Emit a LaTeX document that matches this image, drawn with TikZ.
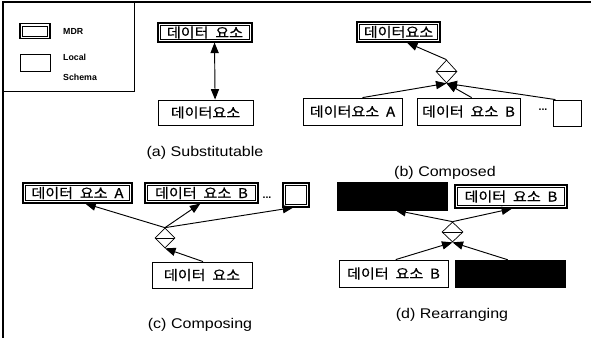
\documentclass[tikz,border=0pt]{standalone}
\usepackage{fontspec}
\setmainfont{Liberation Sans}
\newfontfamily\capfont[FakeStretch=1.14]{Liberation Sans}
\newfontfamily\kr[FakeStretch=1.12,WordSpace=2,FakeBold=0.6]{Noto Sans CJK KR}
\usetikzlibrary{shapes.geometric,arrows.meta,calc}
\begin{document}
\begin{tikzpicture}[x=0.03cm,y=-0.03cm,
  sz/.style 2 args={minimum width=#1*0.03cm, minimum height=#2*0.03cm},
  lbox/.style={draw, line width=0.7pt, inner sep=0pt, font=\kr\fontsize{11.5}{12}\selectfont},
  mbox/.style={lbox, line width=0.9pt,
    path picture={\draw[line width=0.5pt] ([shift={(2pt,2pt)}]path picture bounding box.south west) rectangle ([shift={(-2pt,-2pt)}]path picture bounding box.north east);}},
  bbox/.style={fill=black, draw=black, inner sep=0pt},
  dia/.style={draw, diamond, inner sep=0pt, line width=0.6pt,
    path picture={\draw[line width=0.5pt] (path picture bounding box.west) -- (path picture bounding box.east);}},
  captxt/.style={font=\capfont\fontsize{12}{13}\selectfont, inner sep=0pt},
  legt/.style={font=\bfseries\fontsize{7.5}{8}\selectfont, inner sep=0pt},
  dotstxt/.style={font=\bfseries\fontsize{9}{9}\selectfont, inner sep=0pt},
  tipa/.tip={Triangle[length=9pt,width=7pt]},
  arr/.style={-tipa, line width=0.8pt},
  arr2/.style={tipa-tipa, line width=0.8pt}]
\useasboundingbox (0,0) rectangle (591,338);
% frame
\draw[line width=0.9pt] (3,338) -- (3,2) -- (591,2);
\draw[line width=0.8pt] (3,91) -- (134,91) -- (134,2);
% legend
\node[mbox, sz={30}{15}] (lm) at (35,31) {};
\node[lbox, sz={30}{17}] (ll) at (35,63) {};
\node[legt, anchor=west] (tm) at (63,31) {MDR};
\node[legt, anchor=west] (tl1) at (63,57) {Local};
\node[legt, anchor=west] (tl2) at (63,77) {Schema};
% (a)
\node[mbox, sz={94}{19}] (aT) at (205,32.5) {데이터 요소};
\node[lbox, sz={95}{25}] (aB) at (205.5,112.5) {데이터요소};
\draw[arr2] ($(aT.south west)!0.6!(aT.south east)$) -- ($(aB.north west)!0.6!(aB.north east)$);
\node[captxt] (ca) at (205,153) {(a) Substitutable};
% (b)
\node[mbox, sz={83}{20}] (bT) at (398.5,32) {데이터요소};
\node[dia, sz={21}{23}] (bD) at (446.5,71.5) {};
\node[lbox, sz={99}{27}] (bA) at (352.5,111.5) {데이터요소 A};
\node[lbox, sz={103}{27}] (bB) at (468.5,111.5) {데이터 요소 B};
\node[lbox, sz={28}{26}] (bS) at (567,113) {};
\node[dotstxt] (bdots) at (543,110) {...};
\draw[arr] (bD.north) -- ($(bT.south west)!0.6!(bT.south east)$);
\draw[arr] ($(bA.north west)!0.6!(bA.north east)$) -- (bD.south);
\draw[arr] ($(bB.north west)!0.53!(bB.north east)$) -- (bD.south);
\draw[arr] ($(bS.north west)!0.1!(bS.north east)$) -- (bD.south);
\node[captxt] (cb) at (445,173) {(b) Composed};
% (c)
\node[mbox, sz={109}{20}] (cA) at (77.5,193) {데이터 요소 A};
\node[mbox, sz={113}{20}] (cB) at (201.5,193) {데이터 요소 B};
\node[dotstxt] (cdots) at (267,198) {...};
\node[mbox, sz={26}{24}] (cS) at (296,195) {};
\node[dia, sz={20}{20}] (cD) at (165,238) {};
\node[lbox, sz={100}{26}] (cL) at (202,275) {데이터 요소};
\draw[arr] (cD.north) -- ($(cA.south west)!0.57!(cA.south east)$);
\draw[arr] (cD.north) -- ($(cB.south west)!0.49!(cB.south east)$);
\draw[arr] (cD.north) -- ($(cS.south west)!0.4!(cS.south east)$);
\draw[arr] ($(cL.north west)!0.51!(cL.north east)$) -- (cD.south);
\node[captxt] (cc) at (200,325) {(c) Composing};
% (d)
\node[bbox, sz={110}{28}] (dK1) at (392,196) {};
\node[mbox, sz={112}{23}] (dT) at (511,196.5) {데이터 요소 B};
\node[dia, sz={21}{20}] (dD) at (452.5,232) {};
\node[lbox, sz={109}{27}] (dL) at (393.5,273.5) {데이터 요소 B};
\node[bbox, sz={110}{27}] (dK2) at (510,273.5) {};
\draw[arr] (dD.north) -- ($(dK1.south west)!0.53!(dK1.south east)$);
\draw[arr] (dD.north) -- ($(dT.south west)!0.51!(dT.south east)$);
\draw[arr] ($(dL.north west)!0.52!(dL.north east)$) -- (dD.south);
\draw[arr] ($(dK2.north west)!0.48!(dK2.north east)$) -- (dD.south);
\node[captxt] (cd) at (452,315) {(d) Rearranging};
\end{tikzpicture}
\end{document}
